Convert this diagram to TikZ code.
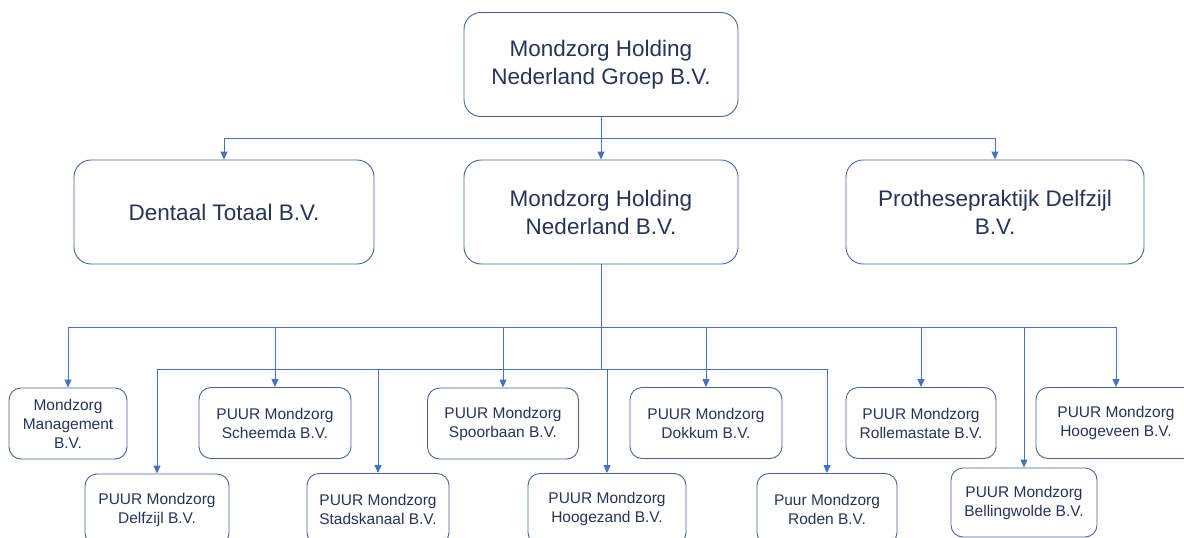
\documentclass[tikz,border=0pt]{standalone}
\usepackage{fontspec}
\setmainfont{Liberation Sans}
\usepackage{xcolor}
\usetikzlibrary{arrows.meta}

\definecolor{lijnblauw}{RGB}{68,114,196}
\definecolor{randblauw}{RGB}{70,100,155}
\definecolor{tekstblauw}{RGB}{38,52,88}

\tikzset{
	box/.style={draw=randblauw, line width=0.9pt, fill=white, text=tekstblauw, align=center, inner sep=0pt},
	grootbox/.style={box, rounded corners=17pt, minimum height=104pt, font=\fontsize{22.5}{28}\selectfont},
	kleinbox/.style={box, rounded corners=12pt, minimum height=71pt, font=\fontsize{15.5}{19}\selectfont},
	pijl/.style={draw=lijnblauw, line width=0.9pt, -{Triangle[length=8pt,width=7pt]}}
}

\begin{document}
\begin{tikzpicture}[x=1pt,y=-1pt]
			
			\useasboundingbox (0,0) rectangle (1184,538);
			
			%--- Bovenste laag ---
			\node[grootbox, minimum width=274pt] (groep) at (601,64.5) {Mondzorg Holding\\Nederland Groep B.V.};
			
			%--- Tweede laag ---
			\node[grootbox, minimum width=300pt] (dentaal) at (224,212) {Dentaal Totaal B.V.};
			\node[grootbox, minimum width=274pt] (holding) at (601,212) {Mondzorg Holding\\Nederland B.V.};
			\node[grootbox, minimum width=298pt] (prothese) at (995,212) {Prothesepraktijk Delfzijl\\B.V.};
			
			%--- Werkmaatschappijen, bovenste rij ---
			\node[kleinbox, minimum width=118pt] (management) at (68,423.5) {Mondzorg\\Management\\B.V.};
			\node[kleinbox, minimum width=152pt] (scheemda) at (275,423) {PUUR Mondzorg\\Scheemda B.V.};
			\node[kleinbox, minimum width=151pt] (spoorbaan) at (503,423.5) {PUUR Mondzorg\\Spoorbaan B.V.};
			\node[kleinbox, minimum width=152pt] (dokkum) at (706,423) {PUUR Mondzorg\\Dokkum B.V.};
			\node[kleinbox, minimum width=150pt] (rollemastate) at (921,423) {PUUR Mondzorg\\Rollemastate B.V.};
			\node[kleinbox, minimum width=160pt] (hoogeveen) at (1116,423) {PUUR Mondzorg\\Hoogeveen B.V.};
			
			%--- Werkmaatschappijen, onderste rij ---
			\node[kleinbox, minimum width=144pt] (delfzijl) at (157,509.5) {PUUR Mondzorg\\Delfzijl B.V.};
			\node[kleinbox, minimum width=142pt] (stadskanaal) at (378,509) {PUUR Mondzorg\\Stadskanaal B.V.};
			\node[kleinbox, minimum width=158pt] (hoogezand) at (607,509) {PUUR Mondzorg\\Hoogezand B.V.};
			\node[kleinbox, minimum width=140pt] (roden) at (827,509) {Puur Mondzorg\\Roden B.V.};
			\node[kleinbox, minimum width=146pt, minimum height=69pt] (bellingwolde) at (1024,502.5) {PUUR Mondzorg\\Bellingwolde B.V.};
			
			%--- Verbindingen ---
			\draw[pijl] (groep.south) -- (holding.north);
			\foreach \n in {dentaal,prothese}
				\draw[pijl] (groep.south) -- +(0,21) -| (\n.north);
			
			\foreach \n in {management,scheemda,spoorbaan,dokkum,rollemastate,bellingwolde,hoogeveen}
				\draw[pijl] (holding.south) -- +(0,63) -| (\n.north); % bovenste rail
			\foreach \n in {delfzijl,stadskanaal,hoogezand,roden}
				\draw[pijl] (holding.south) -- +(0,105) -| (\n.north); % onderste rail
			
		\end{tikzpicture}
\end{document}
